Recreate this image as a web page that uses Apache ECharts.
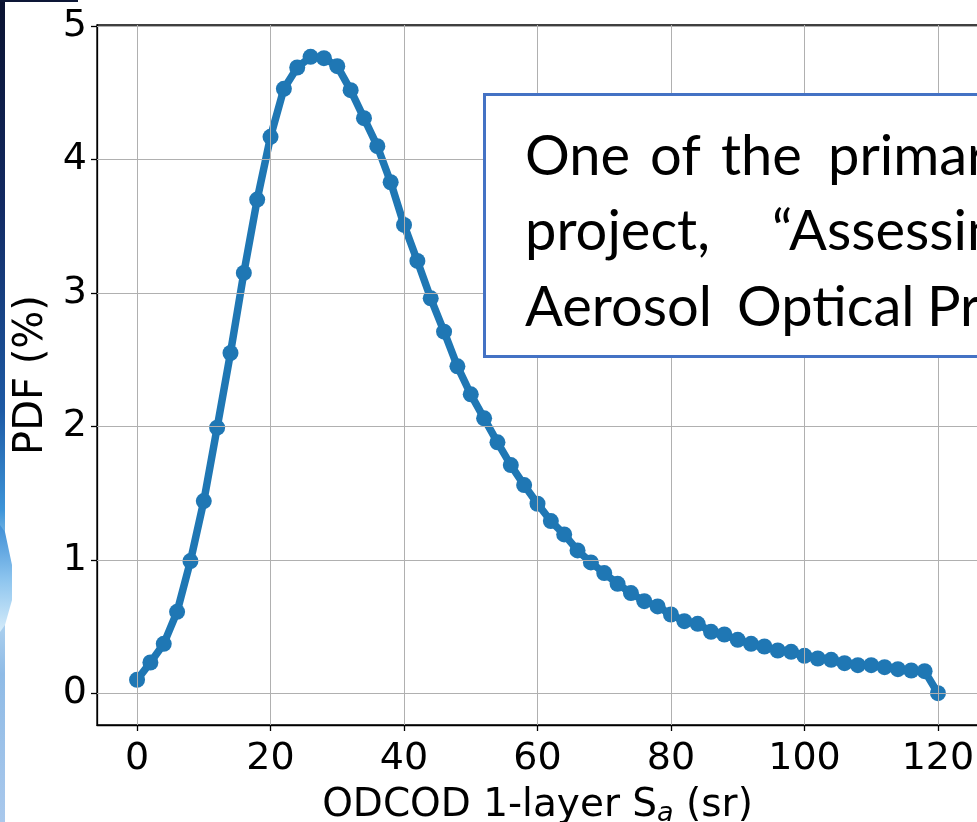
<!DOCTYPE html>
<html>
<head>
<meta charset="utf-8">
<title>ODCOD 1-layer lidar ratio PDF</title>
<script src="https://cdn.jsdelivr.net/npm/echarts@6/dist/echarts.min.js"></script>
<style>
  html, body { margin: 0; padding: 0; background: #ffffff; }
  #chart { width: 977px; height: 822px; }
</style>
</head>
<body>
<div id="chart"></div>
<script>
// Lidar ratio bins (sr) and their probability density (%)
const lidarRatio = [
  0, 2, 4, 6, 8, 10, 12, 14, 16, 18,
  20, 22, 24, 26, 28, 30, 32, 34, 36, 38,
  40, 42, 44, 46, 48, 50, 52, 54, 56, 58,
  60, 62, 64, 66, 68, 70, 72, 74, 76, 78,
  80, 82, 84, 86, 88, 90, 92, 94, 96, 98,
  100, 102, 104, 106, 108, 110, 112, 114, 116, 118,
  120
];
const pdfPercent = [
  0.10, 0.23, 0.37, 0.61, 0.99, 1.44, 1.99, 2.55, 3.15, 3.70,
  4.17, 4.53, 4.69, 4.77, 4.76, 4.70, 4.52, 4.31, 4.10, 3.83,
  3.51, 3.24, 2.96, 2.71, 2.45, 2.24, 2.06, 1.88, 1.71, 1.56,
  1.42, 1.29, 1.19, 1.07, 0.98, 0.90, 0.82, 0.75, 0.69, 0.65,
  0.59, 0.54, 0.52, 0.46, 0.44, 0.40, 0.37, 0.35, 0.32, 0.31,
  0.28, 0.26, 0.25, 0.225, 0.21, 0.21, 0.195, 0.18, 0.17, 0.165,
  0.0
];

// Tick positions
const xTicks = [0, 20, 40, 60, 80, 100, 120];
const yTicks = [0, 1, 2, 3, 4, 5];

// Text box lines, split into words
const boxLine1 = ['One', 'of', 'the', 'primary'];
const boxLine2 = ['project,', '\u201cAssessing'];
const boxLine3 = ['Aerosol', 'Optical', 'Properties'];

// Axis limits padded by 5% of the data span on each side
function paddedRange(values) {
  const lo = Math.min.apply(null, values), hi = Math.max.apply(null, values);
  const pad = (hi - lo) * 0.05;
  return [lo - pad, hi + pad];
}
const xRange = paddedRange(lidarRatio);
const yRange = paddedRange(pdfPercent);

const seriesData = lidarRatio.map((x, i) => [x, pdfPercent[i]]);

const FONT = 'DejaVu Sans';
const SPINE = '#000000';
const GRID = '#b0b0b0';
const LINE = '#1f77b4';

const chart = echarts.init(document.getElementById('chart'), null, { renderer: 'canvas' });

const boxFont = '56px Lato';
const wordX1 = [525, 650, 721, 828];
const wordX2 = [525, 772];
const wordX3 = [525, 737, 927];
function words(list, xs, y) {
  return list.map((w, i) => ({
    type: 'text', z: 110, x: xs[i], y: y,
    style: { text: w, font: boxFont, fill: '#000', align: 'left', verticalAlign: 'middle' }
  }));
}

const option = {
  animation: false,
  backgroundColor: '#ffffff',
  grid: {
    left: 97, top: 25, width: 881, height: 700,
    outerBoundsMode: 'none', containLabel: false,
    show: true, borderColor: SPINE, borderWidth: 1.3, backgroundColor: 'transparent'
  },
  xAxis: {
    type: 'value', min: xRange[0], max: xRange[1],
    splitLine: { show: false },
    axisLine: { show: true, onZero: false, lineStyle: { color: SPINE, width: 1.3 } },
    axisTick: { show: true, customValues: xTicks, length: 6, lineStyle: { color: SPINE, width: 1.3 } },
    axisLabel: { customValues: xTicks, fontFamily: FONT, fontSize: 38, color: '#000', margin: 15 },
    name: '{n|ODCOD 1-layer S}{s|a}{n| (sr)}',
    nameLocation: 'middle', nameGap: 58,
    nameTextStyle: {
      fontFamily: FONT, fontSize: 39, color: '#000',
      rich: {
        n: { fontFamily: FONT, fontSize: 39, color: '#000', lineHeight: 46 },
        s: { fontFamily: FONT, fontSize: 27, fontStyle: 'italic', color: '#000', lineHeight: 27, padding: [15, 0, 0, 0] }
      }
    }
  },
  yAxis: {
    type: 'value', min: yRange[0], max: yRange[1],
    splitLine: { show: false },
    axisLine: { show: true, onZero: false, lineStyle: { color: SPINE, width: 1.3 } },
    axisTick: { show: true, customValues: yTicks, length: 6, lineStyle: { color: SPINE, width: 1.3 } },
    axisLabel: { customValues: yTicks, fontFamily: FONT, fontSize: 38, color: '#000', margin: 10 },
    name: 'PDF (%)', nameLocation: 'middle', nameGap: 43, nameRotate: 90,
    nameTextStyle: { fontFamily: FONT, fontSize: 40, color: '#000' }
  },
  series: [
    {
      // grid lines at the tick positions
      type: 'line', data: [], z: 1, silent: true,
      markLine: {
        silent: true, symbol: 'none', animation: false,
        label: { show: false },
        lineStyle: { color: GRID, width: 1, type: 'solid' },
        emphasis: { disabled: true },
        data: xTicks.map(v => ({ xAxis: v })).concat(yTicks.map(v => ({ yAxis: v })))
      }
    },
    {
      type: 'line', z: 3, data: seriesData,
      lineStyle: { color: LINE, width: 7.5 },
      itemStyle: { color: LINE },
      symbol: 'circle', symbolSize: 16, showAllSymbol: true,
      clip: false
    }
  ],
  graphic: [
    // slide background strip on the left edge
    {
      type: 'rect', z: 120, shape: { x: 0, y: 0, width: 5, height: 822 },
      style: {
        fill: new echarts.graphic.LinearGradient(0, 0, 0, 1, [
          { offset: 0, color: '#0a1230' },
          { offset: 0.25, color: '#122a63' },
          { offset: 0.5, color: '#1d5aa5' },
          { offset: 0.62, color: '#3d94d8' },
          { offset: 0.7, color: '#c7e4f6' },
          { offset: 0.82, color: '#8fbbe6' },
          { offset: 1, color: '#a9c8ec' }
        ])
      }
    },
    {
      type: 'polygon', z: 121,
      shape: { points: [[0, 525], [5, 532], [12, 565], [12, 600], [5, 625], [0, 632]] },
      style: {
        fill: new echarts.graphic.LinearGradient(0, 0, 0, 1, [
          { offset: 0, color: '#3f8fd6' },
          { offset: 0.5, color: '#8cc4ee' },
          { offset: 1, color: '#d6ecfa' }
        ])
      }
    },
    { type: 'rect', z: 120, shape: { x: 0, y: 0, width: 78, height: 2 }, style: { fill: '#0d1736' } },
    // text box
    {
      type: 'rect', z: 100,
      shape: { x: 484.5, y: 94.5, width: 540, height: 262 },
      style: { fill: '#ffffff', stroke: '#4472c4', lineWidth: 3 }
    }
  ].concat(words(boxLine1, wordX1, 157))
   .concat(words(boxLine2, wordX2, 232))
   .concat(words(boxLine3, wordX3, 308))
};

chart.setOption(option);
</script>
</body>
</html>
